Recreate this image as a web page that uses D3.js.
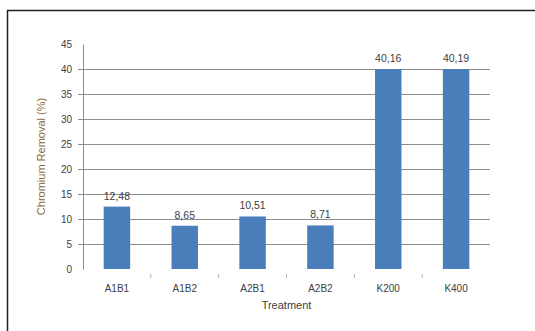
<!DOCTYPE html>
<html>
<head>
<meta charset="utf-8">
<script src="https://cdn.jsdelivr.net/npm/d3@7"></script>
<style>
  body { margin: 0; background: #fff; }
  text { font-family: "Liberation Sans", Arial, sans-serif; }
</style>
</head>
<body>
<div id="chart"></div>
<script>
// data
const treatments = ["A1B1", "A1B2", "A2B1", "A2B2", "K200", "K400"];
const removal = [12.48, 8.65, 10.51, 8.71, 40.16, 40.19];
const valueLabels = ["12,48", "8,65", "10,51", "8,71", "40,16", "40,19"];
const yTicks = [0, 5, 10, 15, 20, 25, 30, 35, 40, 45];

const W = 535, H = 331;
const margin = { top: 44, right: 45, bottom: 62, left: 83 };
const width = W - margin.left - margin.right;
const height = H - margin.top - margin.bottom;

const svg = d3.select("#chart").append("svg")
    .attr("width", W)
    .attr("height", H);

// outer frame
svg.append("rect")
    .attr("x", 7.5).attr("y", 10.5)
    .attr("width", 540).attr("height", 340)
    .attr("fill", "#fff")
    .attr("stroke", "#222")
    .attr("stroke-width", 1.5);

const g = svg.append("g")
    .attr("transform", `translate(${margin.left},${margin.top})`);

const x = d3.scaleBand().domain(treatments).range([0, width]).paddingInner(0.61).paddingOuter(0.305);
const y = d3.scaleLinear().domain([0, 45]).range([height, 0]);

// gridlines
g.selectAll(".grid")
    .data(yTicks.filter(d => d > 0 && d < 45))
    .enter().append("line")
    .attr("x1", -5).attr("x2", width)
    .attr("y1", d => Math.round(y(d)) + 0.5)
    .attr("y2", d => Math.round(y(d)) + 0.5)
    .attr("stroke", "#8c8c8c");

// y axis
const yAxis = g.append("g")
    .call(d3.axisLeft(y).tickValues(yTicks).tickSize(0).tickSizeOuter(0).tickPadding(11));
yAxis.select(".domain").attr("stroke", "#8c8c8c");
yAxis.selectAll(".tick line").remove();
yAxis.selectAll(".tick text").attr("fill", "#404040").style("font-size", "10px");

// x ticks between categories
const step = x.step();
g.selectAll(".xtick")
    .data(d3.range(1, treatments.length))
    .enter().append("line")
    .attr("x1", d => d * step).attr("x2", d => d * step)
    .attr("y1", height + 5).attr("y2", height + 9)
    .attr("stroke", "#b0b0b0");

g.selectAll(".xlabel")
    .data(treatments)
    .enter().append("text")
    .attr("x", d => x(d) + x.bandwidth() / 2)
    .attr("y", height + 23)
    .attr("text-anchor", "middle")
    .attr("fill", "#404040")
    .style("font-size", "10px")
    .text(d => d);

// bars
g.selectAll(".bar")
    .data(removal)
    .enter().append("rect")
    .attr("x", (d, i) => x(treatments[i]))
    .attr("y", d => y(Math.min(d, 40)))
    .attr("width", x.bandwidth())
    .attr("height", d => height - y(Math.min(d, 40)))
    .attr("fill", "#4a7ebb");

// value labels
g.selectAll(".val")
    .data(removal)
    .enter().append("text")
    .attr("x", (d, i) => x(treatments[i]) + x.bandwidth() / 2)
    .attr("y", d => y(Math.min(d, 40)) - 7)
    .attr("text-anchor", "middle")
    .attr("fill", "#404040")
    .style("font-size", "10.5px")
    .text((d, i) => valueLabels[i]);

// axis titles
g.append("text")
    .attr("x", width / 2)
    .attr("y", height + 40)
    .attr("text-anchor", "middle")
    .attr("fill", "#404040")
    .style("font-size", "11px")
    .text("Treatment");

g.append("text")
    .attr("transform", "rotate(-90)")
    .attr("x", -height / 2)
    .attr("y", -38)
    .attr("text-anchor", "middle")
    .attr("fill", "#8a6a3a")
    .style("font-size", "11px")
    .text("Chromium Removal (%)");
</script>
</body>
</html>
